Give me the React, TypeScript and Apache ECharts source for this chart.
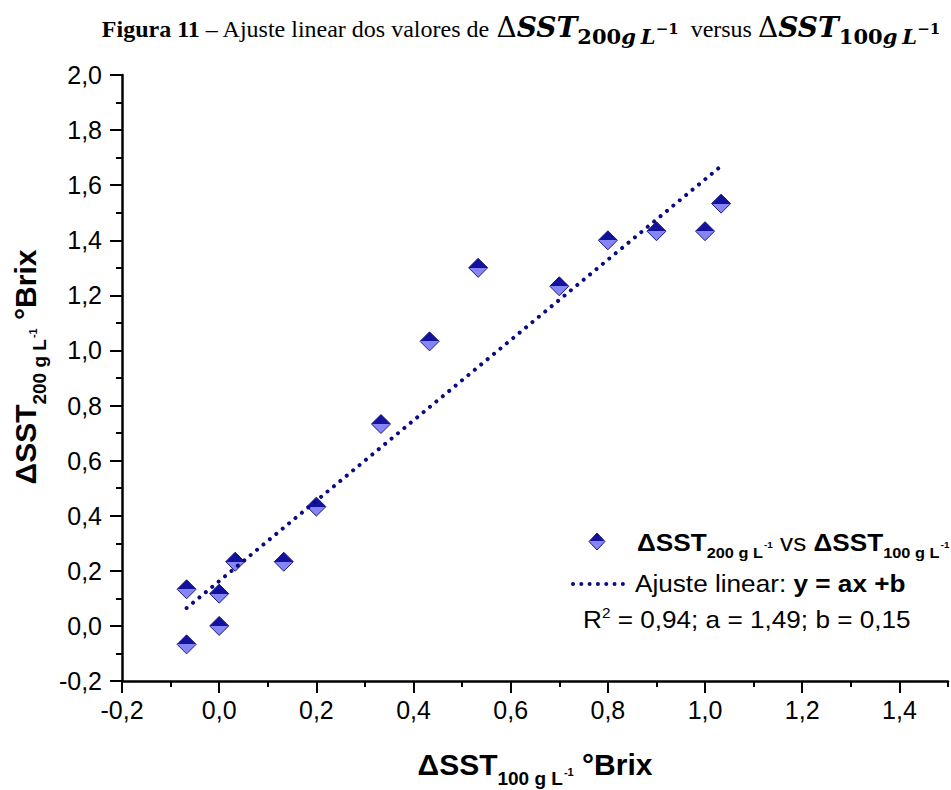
import React, { useEffect, useRef } from "react";
import * as echarts from "echarts";

// ---------- data ----------
const pointsX = [-0.067, -0.067, 0, 0, 0.033, 0.133, 0.2, 0.333, 0.433, 0.533, 0.7, 0.8, 0.9, 1.0, 1.033];
const pointsY = [-0.067, 0.133, 0, 0.117, 0.233, 0.233, 0.433, 0.733, 1.033, 1.3, 1.233, 1.4, 1.433, 1.433, 1.533];
const fitX = [-0.067, 1.03];
const fitY = [0.065, 1.665];
const xMajorTicks = [-0.2, 0, 0.2, 0.4, 0.6, 0.8, 1.0, 1.2, 1.4];
const xMinorTicks = [-0.1, 0.1, 0.3, 0.5, 0.7, 0.9, 1.1, 1.3, 1.5];
const fitR2 = "0,94";
const fitA = "1,49";
const fitB = "0,15";

const SANS = "'Liberation Sans', Arial, sans-serif";
const SERIF = "'Liberation Serif', 'Times New Roman', serif";
const MATH = "'DejaVu Serif', 'Liberation Serif', serif";
const NAVY = "#0a0a82";
const DARK = "#12129e";
const LIGHT = "#8585f5";

type Piece = {
  t: string;
  size: number;
  weight?: string;
  style?: string;
  family?: string;
  dy?: number;
  dx?: number;
};

let measureCtx: CanvasRenderingContext2D | null = null;
function textWidth(p: Piece): number {
  if (!measureCtx) measureCtx = document.createElement("canvas").getContext("2d");
  const ctx = measureCtx as CanvasRenderingContext2D;
  ctx.font = `${p.style || "normal"} ${p.weight || "normal"} ${p.size}px ${p.family || SANS}`;
  return ctx.measureText(p.t).width;
}

function run(pieces: Piece[], align: "left" | "center", color = "#000") {
  const total = pieces.reduce((s, p) => s + (p.dx || 0) + textWidth(p), 0);
  let x = align === "center" ? -total / 2 : 0;
  return pieces.map((p) => {
    x += p.dx || 0;
    const el = {
      type: "text",
      x,
      y: (p.dy || 0) - 0.345 * p.size,
      silent: true,
      style: {
        text: p.t,
        fontSize: p.size,
        fontWeight: p.weight || "normal",
        fontStyle: p.style || "normal",
        fontFamily: p.family || SANS,
        fill: color,
        align: "left",
        verticalAlign: "middle",
      },
    };
    x += textWidth(p);
    return el;
  });
}

const fmt = (v: number) => v.toFixed(1).replace(".", ",").replace("-0,0", "0,0");

export default function App() {
  const ref = useRef<HTMLDivElement>(null);

  useEffect(() => {
    const chart = echarts.init(ref.current as HTMLDivElement, null, { renderer: "svg" });

    const diamondFill = new echarts.graphic.LinearGradient(0, 0, 0, 1, [
      { offset: 0, color: DARK },
      { offset: 0.5, color: DARK },
      { offset: 0.5, color: LIGHT },
      { offset: 1, color: LIGHT },
    ]);

    const sp = (size: number, weight = "normal", family = SANS) =>
      textWidth({ t: " ", size, weight, family });

    const mathPieces = (num: string, lead: number): Piece[] => [
      { t: "Δ", size: 28, family: MATH, dx: lead },
      { t: "SST", size: 28, weight: "bold", style: "italic", family: MATH },
      { t: num, size: 21, weight: "bold", family: MATH, dy: 7 },
      { t: "g", size: 21, weight: "bold", style: "italic", family: MATH, dy: 7 },
      { t: "L", size: 21, weight: "bold", style: "italic", family: MATH, dy: 7, dx: 5 },
      { t: "−1", size: 15, weight: "bold", family: MATH, dy: -3 },
    ];

    const TS = 24;
    const titlePieces: Piece[] = [
      { t: "Figura 11", size: TS, weight: "bold", family: SERIF },
      { t: "– Ajuste linear dos valores de", size: TS, family: SERIF, dx: sp(TS, "normal", SERIF) },
      ...mathPieces("200", sp(TS, "normal", SERIF)),
      { t: "versus", size: TS, family: SERIF, dx: 2 * sp(TS, "normal", SERIF) },
      ...mathPieces("100", sp(TS, "normal", SERIF)),
    ];

    const axisNamePieces = (num: string): Piece[] => [
      { t: "ΔSST", size: 30, weight: "bold" },
      { t: num + " g L", size: 19, weight: "bold", dy: 10 },
      { t: "-1", size: 11, weight: "bold", dy: 1, dx: 1 },
      { t: "°Brix", size: 30, weight: "bold", dx: sp(30, "bold") },
    ];

    const legendRow1: Piece[] = [
      { t: "ΔSST", size: 24, weight: "bold" },
      { t: "200 g L", size: 15, weight: "bold", dy: 7 },
      { t: "-1", size: 9, weight: "bold", dy: -3, dx: 1 },
      { t: "vs", size: 24, dx: sp(24) },
      { t: "ΔSST", size: 24, weight: "bold", dx: sp(24) },
      { t: "100 g L", size: 15, weight: "bold", dy: 7 },
      { t: "-1", size: 9, weight: "bold", dy: -3, dx: 1 },
    ];
    const legendRow2: Piece[] = [
      { t: "Ajuste linear:", size: 24 },
      { t: "y = ax +b", size: 24, weight: "bold", dx: sp(24) },
    ];
    const legendRow3: Piece[] = [
      { t: "R", size: 24 },
      { t: "2", size: 14, dy: -10 },
      { t: `= ${fitR2}; a = ${fitA}; b = ${fitB}`, size: 24, dx: sp(24) },
    ];

    const LSX = 1.09;

    const option: any = {
      animation: false,
      backgroundColor: "#ffffff",
      grid: { left: 122, right: 3, top: 75, bottom: 109, containLabel: false },
      xAxis: [
        {
          type: "value",
          position: "bottom",
          min: -0.2,
          max: 1.5,
          interval: 0.2,
          axisLine: { show: true, onZero: false, lineStyle: { color: "#000", width: 2.5 } },
          axisTick: { show: true, length: 12, lineStyle: { color: "#000", width: 2 }, customValues: xMajorTicks },
          axisLabel: {
            customValues: xMajorTicks,
            formatter: fmt,
            color: "#000",
            fontSize: 25,
            fontFamily: SANS,
            margin: 16,
          },
          splitLine: { show: false },
        },
        {
          type: "value",
          position: "bottom",
          min: -0.2,
          max: 1.5,
          axisLine: { show: false, onZero: false },
          axisTick: { show: true, length: 6, lineStyle: { color: "#000", width: 2 }, customValues: xMinorTicks },
          axisLabel: { show: false },
          splitLine: { show: false },
        },
      ],
      yAxis: {
        type: "value",
        min: -0.2,
        max: 2.0,
        interval: 0.2,
        axisLine: { show: true, onZero: false, lineStyle: { color: "#000", width: 2.5 } },
        axisTick: { show: true, length: 12, lineStyle: { color: "#000", width: 2 } },
        minorTick: { show: true, splitNumber: 2, length: 6, lineStyle: { color: "#000", width: 2 } },
        axisLabel: { formatter: fmt, color: "#000", fontSize: 25, fontFamily: SANS, margin: 20 },
        splitLine: { show: false },
      },
      series: [
        {
          type: "scatter",
          xAxisIndex: 0,
          data: pointsX.map((x, i) => [x, pointsY[i]]),
          symbol: "diamond",
          symbolSize: 19,
          itemStyle: { color: diamondFill, borderColor: "#1a1a78", borderWidth: 1, opacity: 1 },
          emphasis: { disabled: true },
          z: 3,
        },
        {
          type: "line",
          xAxisIndex: 0,
          data: fitX.map((x, i) => [x, fitY[i]]),
          symbol: "none",
          showSymbol: false,
          lineStyle: { color: NAVY, width: 4, type: [0.01, 8.3], cap: "round" },
          emphasis: { disabled: true },
          z: 4,
        },
      ],
      graphic: [
        { type: "group", x: 521, y: 37, children: run(titlePieces, "center") },
        { type: "group", x: 535, y: 775, children: run(axisNamePieces("100"), "center") },
        {
          type: "group",
          x: 36,
          y: 367,
          rotation: Math.PI / 2,
          children: run(axisNamePieces("200"), "center"),
        },
        // legend
        {
          type: "polygon",
          shape: { points: [[597, 533], [605, 541.5], [597, 550], [589, 541.5]] },
          style: { fill: diamondFill, stroke: "#1a1a78", lineWidth: 1 },
          silent: true,
        },
        { type: "group", x: 637, y: 551, scaleX: LSX, children: run(legendRow1, "left") },
        {
          type: "line",
          shape: { x1: 573, y1: 584, x2: 627, y2: 584 },
          style: { stroke: NAVY, lineWidth: 4, lineDash: [0.01, 8.3], lineCap: "round" },
          silent: true,
        },
        { type: "group", x: 635, y: 592, scaleX: LSX, children: run(legendRow2, "left") },
        { type: "group", x: 583, y: 628, scaleX: LSX, children: run(legendRow3, "left") },
      ],
    };

    chart.setOption(option);
    return () => chart.dispose();
  }, []);

  return (
    <div
      ref={ref}
      style={{ position: "absolute", left: 0, top: 0, width: 951, height: 790, background: "#fff" }}
    />
  );
}
